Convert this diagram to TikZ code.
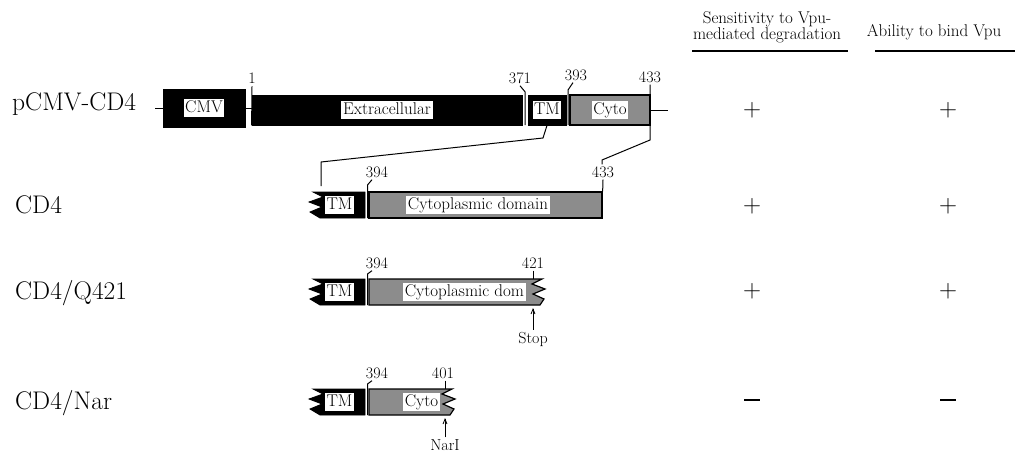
\documentclass[tikz,border=0pt]{standalone}
\usetikzlibrary{arrows.meta}
\begin{document}
\begin{tikzpicture}[x=1pt,y=-1pt,
  blkbox/.style={fill=black,draw=black,line width=0.8pt,inner sep=0pt},
  grybox/.style={fill=black!45,draw=black,line width=1.3pt,inner sep=0pt},
  blkpoly/.style={fill=black,draw=black,line width=0.8pt},
  grypoly/.style={fill=black!45,draw=black,line width=1.2pt},
  tk/.style={line width=1pt},
  lab/.style={fill=white,inner sep=1.6pt,font=\fontsize{17}{19}\selectfont,text height=11.5pt,text depth=3.3pt},
  num/.style={inner sep=0pt,font=\fontsize{16}{18}\selectfont},
  rowlab/.style={anchor=base west,inner sep=0pt,font=\fontsize{25.5}{29}\selectfont},
  hdr/.style={align=center,inner sep=0pt,font=\fontsize{17}{13.5}\selectfont},
  sign/.style={inner sep=0pt,font=\fontsize{25}{25}\selectfont},
  arr/.style={line width=0.8pt,-{Straight Barb[length=5pt,width=4pt]}}
]
\useasboundingbox (0,0) rectangle (1019,455);

% ---------- headers ----------
\node[hdr] (h1) at (767,27) {Sensitivity to Vpu-\\mediated degradation};
\node[hdr] (h2) at (934,32.5) {Ability to bind Vpu};
\draw[line width=1.2pt] (692,51) -- (848,51);
\draw[line width=1.2pt] (875,51) -- (1015,51);

% ---------- row 1 : pCMV-CD4 ----------
\node[rowlab] (r1) at (12,110) {pCMV-CD4};
\node[blkbox,minimum width=82,minimum height=38] (cmv) at (204,108) {};
\node[lab] (cmvl) at (cmv) {CMV};
\node[blkbox,minimum width=270,minimum height=30] (ext) at (387,110) {};
\node[lab] (extl) at (ext) {Extracellular};
\node[blkbox,minimum width=38,minimum height=30] (tm1) at (547,110) {};
\node[lab,inner sep=1.2pt] (tm1l) at (tm1) {TM};
\node[grybox,minimum width=80,minimum height=30] (cy1) at (610,110) {};
\node[lab] (cy1l) at (cy1) {Cyto};
\draw[tk] (cmv.west) -- ++(-8,0);
\draw[tk] (cmv.east) -- (cmv.east -| ext.west);
\draw[tk] (cy1.east) -- ++(17,0);

\node[num] (n1) at (252,78) {1};
\draw[tk] ([yshift=-3]n1.south) -- (ext.south west);
\node[num] (n371) at (520,78) {371};
\coordinate (t371) at (525,125);
\draw[tk] ([yshift=-2]n371.south) -- ++(5,6) -- (t371);
\node[num] (n393) at (576,75) {393};
\coordinate (t393) at (568,125);
\draw[tk] ([xshift=-3,yshift=-2]n393.south) -- (568,90) -- (t393);
\node[num] (n433a) at (650,77) {433};

% ---------- row 2 : CD4 ----------
\node[rowlab] (r2) at (15,213) {CD4};
\begin{scope}[shift={(0,205)}]
  \fill[blkpoly] (365,-13) -- (313,-13) -- (323,-8) -- (309,-3) -- (322,2) -- (310,7) -- (320,13) -- (365,13) -- cycle;
  \node[lab,inner sep=1.2pt] (tm2l) at (339.5,0) {TM};
  \node[grybox,minimum width=233,minimum height=26] (cy2) at (485.5,0) {};
  \node[lab] (cy2l) at (478,0) {Cytoplasmic domain};
  \node[num] (n394b) at (377,-33) {394};
  \coordinate (t394b) at (367.5,13);
  \draw[tk] ([xshift=-5,yshift=-2]n394b.south) -- (367.5,-20) -- (t394b);
  \node[num] (n433b) at (603,-33) {433};
  \draw[tk] ([yshift=-2]n433b.south) -- (cy2.north east);
\end{scope}
% zoom connectors
\coordinate (c1) at (543,138);
\coordinate (c2) at (321,162);
\coordinate (c3) at (321,186);
\draw[tk] (tm1.south) -- (c1) -- (c2) -- (c3);
\coordinate (d1) at (650,140);
\coordinate (d2) at (602,160);
\draw[tk] ([yshift=-2]n433a.south) -- (d1) -- (d2) -- ([yshift=2]n433b.north -| d2);

% ---------- row 3 : CD4/Q421 ----------
\node[rowlab] (r3) at (15,299) {CD4/Q421};
\begin{scope}[shift={(0,292)}]
  \fill[blkpoly] (365,-13) -- (313,-13) -- (323,-8) -- (309,-3) -- (322,2) -- (310,7) -- (320,13) -- (365,13) -- cycle;
  \node[lab,inner sep=1.2pt] (tm3l) at (339.5,0) {TM};
  \filldraw[grypoly] (369,-13) -- (542,-13) -- (532,-8) -- (545,-3) -- (533,2) -- (544,7) -- (540,13) -- (369,13) -- cycle;
  \node[lab,anchor=west] (cy3l) at (403,0) {Cytoplasmic dom};
  \node[num] (n394c) at (377,-29) {394};
  \coordinate (t394c) at (367.5,13);
  \draw[tk] ([xshift=-5,yshift=-2]n394c.south) -- (367.5,-18) -- (t394c);
  \node[num] (n421) at (533,-29) {421};
  \coordinate (t421) at (533,-13);
  \draw[tk] ([yshift=-2]n421.south) -- (t421);
  \node[num] (stop) at (533,47) {Stop};
  \coordinate (a3) at (533,16);
  \draw[arr] ([yshift=2]stop.north) -- (a3);
\end{scope}

% ---------- row 4 : CD4/Nar ----------
\node[rowlab] (r4) at (15,409) {CD4/Nar};
\begin{scope}[shift={(0,402)}]
  \fill[blkpoly] (365,-13) -- (313,-13) -- (323,-8) -- (309,-3) -- (322,2) -- (310,7) -- (320,13) -- (365,13) -- cycle;
  \node[lab,inner sep=1.2pt] (tm4l) at (339.5,0) {TM};
  \filldraw[grypoly] (369,-13) -- (452,-13) -- (442,-8) -- (455,-3) -- (443,2) -- (454,7) -- (450,13) -- (369,13) -- cycle;
  \node[lab,anchor=west] (cy4l) at (403,0) {Cyto};
  \node[num] (n394d) at (377,-29) {394};
  \coordinate (t394d) at (367.5,13);
  \draw[tk] ([xshift=-5,yshift=-2]n394d.south) -- (367.5,-18) -- (t394d);
  \node[num] (n401) at (443,-29) {401};
  \coordinate (t401) at (445,-13);
  \draw[tk] ([xshift=2,yshift=-2]n401.south) -- (t401);
  \node[num] (nari) at (445,43) {NarI};
  \coordinate (a4) at (445,16);
  \draw[arr] ([yshift=2]nari.north) -- (a4);
\end{scope}

% ---------- results ----------
\node[sign] (p11) at (752,110) {+};
\node[sign] (p12) at (948,110) {+};
\node[sign] (p21) at (752,206) {+};
\node[sign] (p22) at (948,206) {+};
\node[sign] (p31) at (752,291) {+};
\node[sign] (p32) at (948,291) {+};
\node[inner sep=0pt] (m41) at (752,400) {\rule{16pt}{1.6pt}};
\node[inner sep=0pt] (m42) at (948,400) {\rule{16pt}{1.6pt}};
\end{tikzpicture}
\end{document}
